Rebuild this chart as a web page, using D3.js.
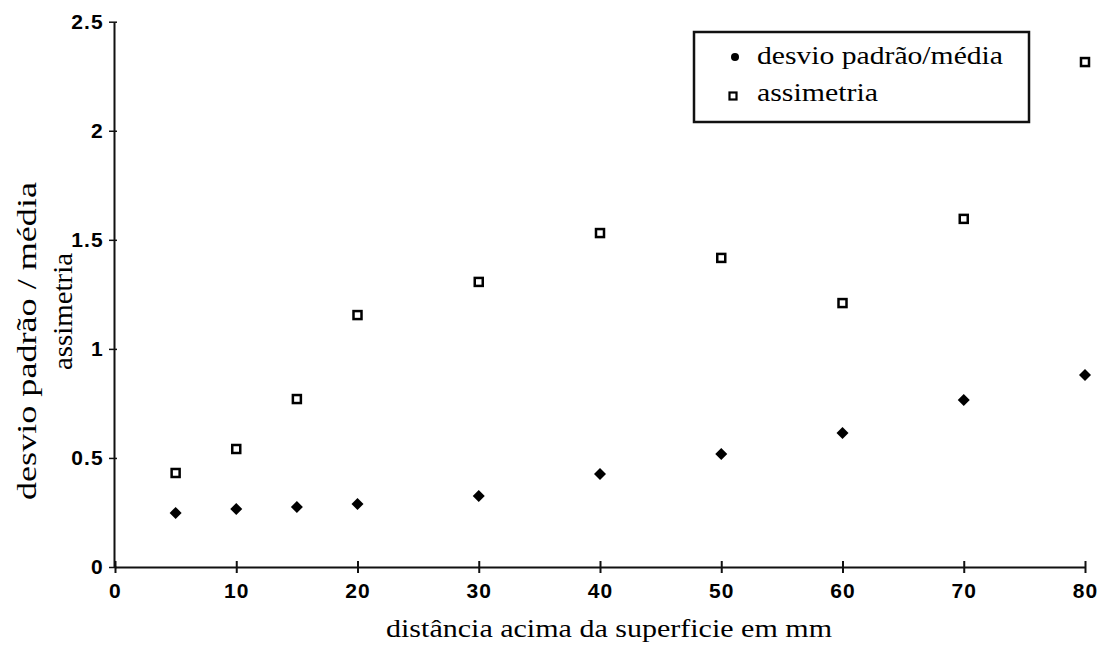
<!DOCTYPE html>
<html><head><meta charset="utf-8">
<script src="https://cdn.jsdelivr.net/npm/d3@7"></script>
<style>body{margin:0;background:#fff}svg{display:block}</style>
</head><body><svg id="c" width="1108" height="647"></svg>
<script>
const distances = [5, 10, 15, 20, 30, 40, 50, 60, 70, 80];
const desvioMedia = [0.248, 0.266, 0.275, 0.289, 0.326, 0.426, 0.518, 0.614, 0.766, 0.880];
const assimetria = [0.431, 0.541, 0.770, 1.155, 1.307, 1.531, 1.417, 1.21, 1.596, 2.315];
const xTicks = [0, 10, 20, 30, 40, 50, 60, 70, 80];
const yTicks = [0, 0.5, 1, 1.5, 2, 2.5];
const seriesNames = ["desvio padrão/média", "assimetria"];
const xTitle = "distância acima da superficie em mm";
const yTitle = ["desvio padrão / média", "assimetria"];

const svg = d3.select("#c");
const x = d3.scaleLinear().domain([0, 80]).range([115, 1085]);
const y = d3.scaleLinear().domain([0, 2.5]).range([567, 21.7]);
const tickFont = "'Liberation Sans', Arial, sans-serif";
const serif = "'Liberation Serif', 'Times New Roman', serif";

// x axis
const xa = svg.append("g").attr("transform", `translate(0,${y(0)})`)
  .call(d3.axisBottom(x).tickValues(xTicks).tickFormat(d3.format("d")).tickSize(0).tickPadding(16));
xa.select(".domain").attr("stroke", "#111").attr("stroke-width", 2);
xa.selectAll(".tick").append("line").attr("y1", -6).attr("y2", 6).attr("stroke", "#111").attr("stroke-width", 2);
xa.selectAll("text").attr("font-family", tickFont).attr("font-size", 21).attr("font-weight", "bold")
  .attr("letter-spacing", 1.2).attr("fill", "#000");

// y axis
const ya = svg.append("g").attr("transform", `translate(${x(0) - 1},0)`)
  .call(d3.axisLeft(y).tickValues(yTicks).tickFormat(d => d3.format("")(d)).tickSize(0).tickPadding(10));
ya.select(".domain").attr("stroke", "#111").attr("stroke-width", 2);
ya.selectAll(".tick").append("line").attr("x1", -5).attr("x2", 3).attr("stroke", "#111").attr("stroke-width", 1.5);
ya.selectAll("text").attr("font-family", tickFont).attr("font-size", 21).attr("font-weight", "bold")
  .attr("letter-spacing", 1.2).attr("fill", "#000");

// axis titles
svg.append("text").attr("x", 386).attr("y", 637)
  .attr("font-family", serif).attr("font-size", 26)
  .attr("textLength", 446).attr("lengthAdjust", "spacingAndGlyphs").text(xTitle);
svg.append("text").attr("transform", "translate(36,500) rotate(-90)")
  .attr("font-family", serif).attr("font-size", 27)
  .attr("textLength", 318).attr("lengthAdjust", "spacingAndGlyphs").text(yTitle[0]);
svg.append("text").attr("transform", "translate(72,370) rotate(-90)")
  .attr("font-family", serif).attr("font-size", 27)
  .attr("textLength", 117).attr("lengthAdjust", "spacingAndGlyphs").text(yTitle[1]);

// points
const diamond = s => `M0,${-s}L${s},0L0,${s}L${-s},0Z`;
svg.append("g").selectAll("path").data(distances).join("path")
  .attr("transform", (d, i) => `translate(${x(d)},${y(desvioMedia[i])})`)
  .attr("d", diamond(6)).attr("fill", "#000");
svg.append("g").selectAll("rect").data(distances).join("rect")
  .attr("x", (d) => x(d) - 4).attr("y", (d, i) => y(assimetria[i]) - 4)
  .attr("width", 8).attr("height", 8).attr("fill", "#fff").attr("stroke", "#000").attr("stroke-width", 2.5);

// legend
const lg = svg.append("g");
lg.append("rect").attr("x", 694).attr("y", 32).attr("width", 335).attr("height", 90)
  .attr("fill", "#fff").attr("stroke", "#111").attr("stroke-width", 2.5);
lg.append("circle").attr("cx", 735).attr("cy", 57).attr("r", 4).attr("fill", "#000");
lg.append("rect").attr("x", 729.5).attr("y", 92.5).attr("width", 7).attr("height", 7)
  .attr("fill", "#fff").attr("stroke", "#000").attr("stroke-width", 2.2);
const legLens = [246, 121];
lg.selectAll("text").data(seriesNames).join("text")
  .attr("x", 757).attr("y", (d, i) => 64 + i * 37)
  .attr("font-family", serif).attr("font-size", 26)
  .attr("textLength", (d, i) => legLens[i]).attr("lengthAdjust", "spacingAndGlyphs").text(d => d);
</script></body></html>
